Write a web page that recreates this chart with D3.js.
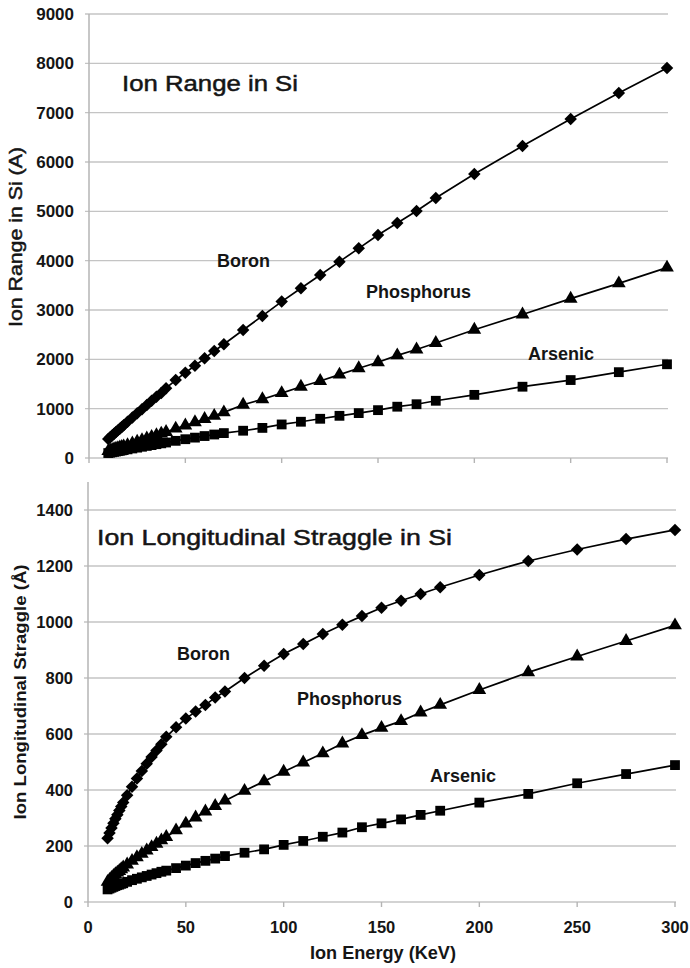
<!DOCTYPE html>
<html><head><meta charset="utf-8">
<script src="https://cdn.jsdelivr.net/npm/d3@7"></script>
<style>
html,body{margin:0;padding:0;background:#fff;}
svg{display:block;font-family:"Liberation Sans",Arial,sans-serif;}
</style></head>
<body>
<svg id="c" width="690" height="968"></svg>
<script>
// ---- data ----
const energies = [10,11,12,13,14,15,16,17,18,20,22.5,25,27.5,30,32.5,35,37.5,40,45,50,55,60,65,70,80,90,100,110,120,130,140,150,160,170,180,200,225,250,275,300];

const rangeBoron = [385,420,455,490,525,560,595,630,665,735,820,905,990,1075,1160,1240,1320,1415,1580,1730,1870,2020,2170,2305,2595,2880,3170,3440,3710,3980,4250,4520,4764,5007,5270,5757,6325,6872,7399,7906];
const rangePhos = [140,152,164,176,188,200,212,224,236,262,295,328,360,395,428,462,495,528,595,660,725,790,855,925,1080,1190,1315,1445,1560,1690,1820,1940,2080,2200,2330,2600,2910,3230,3540,3860];
const rangeArs = [100,108,116,124,131,139,146,154,161,175,193,210,228,245,262,280,297,314,348,381,413,445,476,505,553,610,680,735,795,855,910,970,1040,1090,1160,1280,1445,1580,1740,1900];

const stragBoron = [228,246,264,281,297,312,327,341,355,381,412,441,468,494,518,541,563,590,624,655,680,704,730,752,800,844,886,921,957,990,1021,1051,1076,1100,1124,1168,1218,1259,1296,1329];
const stragPhos = [72,79,86,93,99,105,111,117,123,134,147,160,172,184,196,208,220,232,256,280,302,323,343,362,397,431,465,498,531,566,596,622,646,677,704,757,820,877,932,988];
const stragArs = [45,48,51,54,57,60,62,65,67,72,78,83,88,93,98,103,108,112,121,130,139,147,155,164,176,188,204,218,233,248,267,281,295,311,326,355,386,424,457,489];

const xTicks = [0,50,100,150,200,250,300];
const rangeTicks = [0,1000,2000,3000,4000,5000,6000,7000,8000,9000];
const stragTicks = [0,200,400,600,800,1000,1200,1400];

const svg = d3.select("#c");
const gridColor = "#c4c4c4";
const axisColor = "#b4b4b4";
const ink = "#151515";

function panel(opts){
  const x = d3.scaleLinear().domain([0,300]).range([opts.x0, opts.x1]);
  const y = d3.scaleLinear().domain(opts.yDomain).range([opts.y0, opts.y1]);
  const g = svg.append("g");
  g.selectAll("line.grid").data(opts.yTicks).join("line")
    .attr("x1", opts.x0-4).attr("x2", opts.x1+1)
    .attr("y1", d=>y(d)).attr("y2", d=>y(d))
    .attr("stroke", gridColor).attr("stroke-width",1.4);
  g.selectAll("text.ytl").data(opts.yTicks).join("text")
    .attr("x", opts.x0-15).attr("y", d=>y(d)+6)
    .attr("text-anchor","end").attr("font-weight","bold")
    .attr("font-size", opts.yFont).attr("fill",ink)
    .text(d=>d);
  g.append("line").attr("x1",opts.x0).attr("x2",opts.x0)
    .attr("y1", y(opts.yDomain[1])).attr("y2", y(0))
    .attr("stroke",axisColor).attr("stroke-width",1.5);
  g.selectAll("line.xt").data(xTicks).join("line")
    .attr("x1", d=>x(d)).attr("x2", d=>x(d))
    .attr("y1", y(0)).attr("y2", y(0)+5)
    .attr("stroke",axisColor).attr("stroke-width",1.4);
  const line = d3.line().x(d=>x(d[0])).y(d=>y(d[1]));
  opts.series.forEach(s=>{
    const pts = energies.map((e,i)=>[e, s.values[i]]);
    g.append("path").attr("d", line(pts)).attr("fill","none")
      .attr("stroke","#000").attr("stroke-width",1.7);
  });
  opts.series.forEach(s=>{
    const pts = energies.map((e,i)=>[e, s.values[i]]);
    const sym = d3.symbol().type(s.type).size(s.size);
    g.selectAll(null).data(pts).join("path")
      .attr("d", sym())
      .attr("transform", d=>`translate(${x(d[0])},${y(d[1])})${s.rot?" rotate(45)":""}`)
      .attr("fill","#000");
  });
  return {x,y,g};
}

const seriesNames = ["Boron","Phosphorus","Arsenic"];

const topPanel = panel({
  x0:89, x1:667, y0:458, y1:14, yDomain:[0,9000], yTicks:rangeTicks, yFont:17,
  series:[
    {values:rangeBoron, type:d3.symbolSquare, size:78, rot:true},
    {values:rangePhos, type:d3.symbolTriangle, size:82},
    {values:rangeArs, type:d3.symbolSquare, size:96}
  ]
});
const botPanel = panel({
  x0:88, x1:675, y0:902, y1:482, yDomain:[0,1500], yTicks:stragTicks, yFont:16.5,
  series:[
    {values:stragBoron, type:d3.symbolSquare, size:78, rot:true},
    {values:stragPhos, type:d3.symbolTriangle, size:82},
    {values:stragArs, type:d3.symbolSquare, size:96}
  ]
});

svg.selectAll("text.xtl").data(xTicks).join("text")
  .attr("x", d=>botPanel.x(d)).attr("y", 933)
  .attr("text-anchor","middle").attr("font-weight","bold").attr("font-size",16.5)
  .attr("fill",ink).text(d=>d);

svg.append("text").attr("x",383).attr("y",959).attr("text-anchor","middle")
  .attr("font-weight","bold").attr("font-size",18).attr("fill",ink)
  .attr("textLength",146).attr("lengthAdjust","spacingAndGlyphs")
  .text("Ion Energy (KeV)");
svg.append("text").attr("transform","translate(22,237) rotate(-90)")
  .attr("text-anchor","middle").attr("font-size",18).attr("fill",ink)
  .attr("stroke",ink).attr("stroke-width",0.5)
  .attr("textLength",180).attr("lengthAdjust","spacingAndGlyphs")
  .text("Ion Range in Si (A)");
svg.append("text").attr("transform","translate(26,692) rotate(-90)")
  .attr("text-anchor","middle").attr("font-weight","bold").attr("font-size",17).attr("fill",ink)
  .attr("textLength",255).attr("lengthAdjust","spacingAndGlyphs")
  .text("Ion Longitudinal Straggle (Å)");

svg.append("text").attr("x",122).attr("y",91).attr("font-size",22.5).attr("fill",ink)
  .attr("stroke",ink).attr("stroke-width",0.5)
  .attr("textLength",176).attr("lengthAdjust","spacingAndGlyphs")
  .text("Ion Range in Si");
svg.append("text").attr("x",97).attr("y",545).attr("font-size",22.5).attr("fill",ink)
  .attr("stroke",ink).attr("stroke-width",0.5)
  .attr("textLength",355).attr("lengthAdjust","spacingAndGlyphs")
  .text("Ion Longitudinal Straggle in Si");

const topLabels = [[217,267],[366,297.5],[528,359.5]];
const botLabels = [[177,660],[297,705],[430,781.5]];
seriesNames.forEach((n,i)=>{
  svg.append("text").attr("x",topLabels[i][0]).attr("y",topLabels[i][1])
    .attr("font-weight","bold").attr("font-size",18).attr("fill",ink).text(n);
  svg.append("text").attr("x",botLabels[i][0]).attr("y",botLabels[i][1])
    .attr("font-weight","bold").attr("font-size",18).attr("fill",ink).text(n);
});
</script>
</body></html>
